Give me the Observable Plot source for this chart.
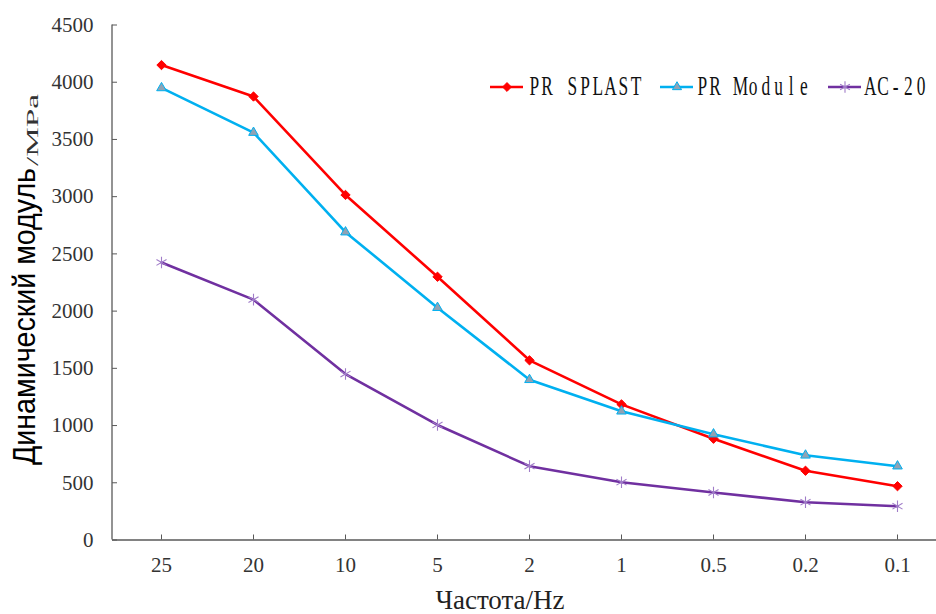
<!DOCTYPE html>
<html>
<head>
<meta charset="utf-8">
<script src="https://cdn.jsdelivr.net/npm/d3@7"></script>
<script src="https://cdn.jsdelivr.net/npm/@observablehq/plot@0.6"></script>
<style>
  html, body { margin: 0; padding: 0; background: #fff; }
  #chart svg { display: block; }
</style>
</head>
<body>
<div id="chart"></div>
<script>
// ---- Data ----
const freqs = ["25", "20", "10", "5", "2", "1", "0.5", "0.2", "0.1"];
const seriesNames = ["PR SPLAST", "PR Module", "AC-20"];
const prSplast = [4150, 3875, 3015, 2300, 1570, 1185, 885, 605, 470];
const prModule = [3950, 3560, 2690, 2030, 1400, 1125, 925, 740, 645];
const ac20 = [2425, 2100, 1450, 1005, 645, 505, 415, 330, 295];
const yTicks = [0, 500, 1000, 1500, 2000, 2500, 3000, 3500, 4000, 4500];
const xTitle = "Частота/Hz";
const yTitleMain = "Динамический модуль";
const yTitleUnit = "/MPa";

const colors = ["#FF0000", "#00B0F0", "#7030A0"];
const seriesValues = [prSplast, prModule, ac20];
const rows = seriesNames.flatMap((s, i) => freqs.map((f, j) => ({series: s, freq: f, value: seriesValues[i][j]})));
const bySeries = name => rows.filter(d => d.series === name);

const W = 936, H = 614, ML = 112, MT = 24.5, MB = 74.5;
const serif = "'Liberation Serif', 'Times New Roman', serif";

const chart = Plot.plot({
  width: W,
  height: H,
  marginLeft: ML,
  marginRight: 0,
  marginTop: MT,
  marginBottom: MB,
  style: {fontFamily: serif, fontSize: "21px", color: "#404040", background: "#fff"},
  x: {type: "point", domain: freqs, range: [ML, 946], padding: 0.5},
  y: {domain: [0, 4500]},
  color: {domain: seriesNames, range: colors},
  marks: [
    Plot.axisY({ticks: yTicks, tickSize: -5, tickPadding: 24, tickFormat: d => String(d), label: null, stroke: "#595959", fill: "#333", fontSize: 21}),
    Plot.axisX({tickSize: -5, tickPadding: 22.5, label: null, stroke: "#595959", fill: "#333", fontSize: 21}),
    Plot.ruleY([0], {stroke: "#595959", strokeWidth: 1.3}),
    Plot.line(rows, {x: "freq", y: "value", z: "series", stroke: "series", strokeWidth: 2.6, curve: "linear"}),
    Plot.dot(bySeries("PR SPLAST"), {x: "freq", y: "value", symbol: "diamond2", r: 4.2, fill: "#FF0000", stroke: "#FF0000", strokeWidth: 1}),
    Plot.dot(bySeries("PR Module"), {x: "freq", y: "value", symbol: "triangle2", r: 4.6, fill: "#8FA3B5", stroke: "#00B0F0", strokeWidth: 1}),
    Plot.dot(bySeries("AC-20"), {x: "freq", y: "value", symbol: "asterisk", r: 5.5, fill: "none", stroke: "#A07CC8", strokeWidth: 1.1})
  ]
});

document.getElementById("chart").appendChild(chart);

const svg = d3.select(chart);
// force serif font on all axis text
svg.attr("font-family", serif);
svg.selectAll("text").attr("font-family", serif).style("font-family", serif);

const yScale = chart.scale("y");
// y axis line
svg.append("line")
  .attr("x1", ML).attr("x2", ML)
  .attr("y1", yScale.apply(0)).attr("y2", yScale.apply(4500))
  .attr("stroke", "#595959").attr("stroke-width", 1.3);

// y title
svg.append("text")
  .attr("transform", `translate(35,465) rotate(-90)`)
  .attr("text-anchor", "start")
  .attr("font-family", "'Liberation Sans', Arial, sans-serif")
  .attr("font-size", 32)
  .attr("fill", "#000")
  .attr("textLength", 297)
  .attr("lengthAdjust", "spacingAndGlyphs")
  .text(yTitleMain);
svg.append("text")
  .attr("transform", `translate(38,166) rotate(-90)`)
  .attr("text-anchor", "start")
  .attr("font-family", serif)
  .attr("font-size", 17)
  .attr("fill", "#333")
  .attr("textLength", 72)
  .attr("lengthAdjust", "spacingAndGlyphs")
  .text(yTitleUnit);

// x title
svg.append("text")
  .attr("x", 500).attr("y", 609)
  .attr("text-anchor", "middle")
  .attr("font-family", serif)
  .attr("font-size", 27)
  .attr("fill", "#222")
  .text(xTitle);

// legend (serif glyphs on a fixed character pitch)
const legendFont = 28, legendSx = 0.62, pitch = 12.7;
const legendItems = [
  {name: seriesNames[0], x0: 490, tx: 528, sym: d3.symbolDiamond2, size: 50, fill: "#FF0000", stroke: "#FF0000", sw: 1},
  {name: seriesNames[1], x0: 660, tx: 696, sym: d3.symbolTriangle2, size: 60, fill: "#8FA3B5", stroke: "#00B0F0", sw: 1},
  {name: seriesNames[2], x0: 828, tx: 864, sym: d3.symbolAsterisk, size: 90, fill: "none", stroke: "#A07CC8", sw: 1.1}
];
const ly = 87;
legendItems.forEach((it, i) => {
  const g = svg.append("g");
  g.append("line").attr("x1", it.x0).attr("x2", it.x0 + 33).attr("y1", ly).attr("y2", ly)
    .attr("stroke", colors[i]).attr("stroke-width", 2.6);
  g.append("path").attr("d", d3.symbol(it.sym, it.size)())
    .attr("transform", `translate(${it.x0 + 17},${ly})`)
    .attr("fill", it.fill).attr("stroke", it.stroke).attr("stroke-width", it.sw);
  const xs = Array.from(it.name, (c, k) => ((k + 0.5) * pitch / legendSx).toFixed(2)).join(" ");
  g.append("text")
    .attr("transform", `translate(${it.tx},95) scale(${legendSx},1)`)
    .attr("x", xs)
    .attr("text-anchor", "middle")
    .attr("font-family", serif)
    .attr("font-size", legendFont)
    .attr("fill", "#111")
    .text(it.name);
});
</script>
</body>
</html>
